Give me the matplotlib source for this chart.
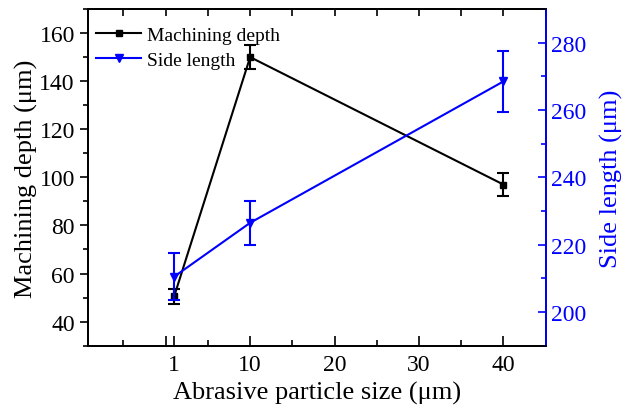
import numpy as np
import matplotlib
matplotlib.use("Agg")
import matplotlib.pyplot as plt
from matplotlib.lines import Line2D

plt.rcParams['font.family'] = ['Liberation Serif', 'DejaVu Serif']

# data
size = [1, 10, 40]
depth = [50.5, 150, 97]
depth_err = [3.2, 5, 4.7]
side = [210.5, 226.5, 268.5]
side_err = [7, 6.5, 9]

xticks = [0, 1, 10, 20, 30, 40]
xticklabels = ['', '1', '10', '20', '30', '40']

blue = '#0000ff'

fig = plt.figure(figsize=(6.26, 4.14), dpi=100)
ax = fig.add_axes([0.1406, 0.1626, 0.8717 - 0.1406, 0.9758 - 0.1626])
ax2 = ax.twinx()

ax.errorbar(size, depth, yerr=depth_err, color='k', marker='s', ms=5,
            lw=1.5, capsize=4, capthick=1.5, elinewidth=1.5)
ax2.errorbar(size, side, yerr=side_err, color=blue, marker='v', ms=6,
             lw=1.5, capsize=4, capthick=1.5, elinewidth=1.5)

ax.set_xlim(-9.2, 45)
ax.set_ylim(30, 170)
ax2.set_ylim(190, 290)

ax.set_xticks(xticks)
ax.set_xticklabels(xticklabels)
ax.set_xticks([-5, 5, 15, 25, 35], minor=True)
ax.set_yticks(np.arange(40, 161, 20))
ax.set_yticks(np.arange(30, 171, 10), minor=True)
ax2.set_yticks(np.arange(200, 281, 20))
ax2.set_yticks(np.arange(190, 291, 10), minor=True)

ax.tick_params(axis='x', which='both', direction='in', labelsize=17, pad=6)
ax.tick_params(axis='x', which='major', length=7, width=1.2)
ax.tick_params(axis='x', which='minor', length=4, width=1.2)
ax.tick_params(axis='y', which='both', direction='out', labelsize=17)
ax.tick_params(axis='y', which='major', length=6, width=1.2)
ax.tick_params(axis='y', which='minor', length=3.5, width=1.2)
ax2.tick_params(axis='y', which='both', direction='in', colors=blue, labelsize=17)
ax2.tick_params(axis='y', which='major', length=6, width=1.2)
ax2.tick_params(axis='y', which='minor', length=3.5, width=1.2)

top = ax.secondary_xaxis('top')
top.set_xticks(np.arange(-5, 46, 5))
top.tick_params(axis='x', direction='in', length=5, width=1.2, labeltop=False)

for sp in ax.spines.values():
    sp.set_linewidth(1.3)
for sp in ax2.spines.values():
    sp.set_linewidth(1.3)
ax2.spines['right'].set_color(blue)
top.spines['top'].set_linewidth(1.3)

ax.set_xlabel('Abrasive particle size (μm)', fontsize=19, labelpad=4)
ax.set_ylabel('Machining depth (μm)', fontsize=19, labelpad=1)
ax2.set_ylabel('Side length (μm)', fontsize=19, color=blue, labelpad=10)

handles = [Line2D([], [], color='k', marker='s', ms=5, lw=1.5),
           Line2D([], [], color=blue, marker='v', ms=6, lw=1.5)]
ax.legend(handles, ['Machining depth', 'Side length'], loc='upper left',
          bbox_to_anchor=(-0.02, 1.0),
          frameon=False, fontsize=14, handlelength=2.3, handletextpad=0.3,
          borderaxespad=0.5, labelspacing=0.35)

fig.savefig('out.png', dpi=100)
